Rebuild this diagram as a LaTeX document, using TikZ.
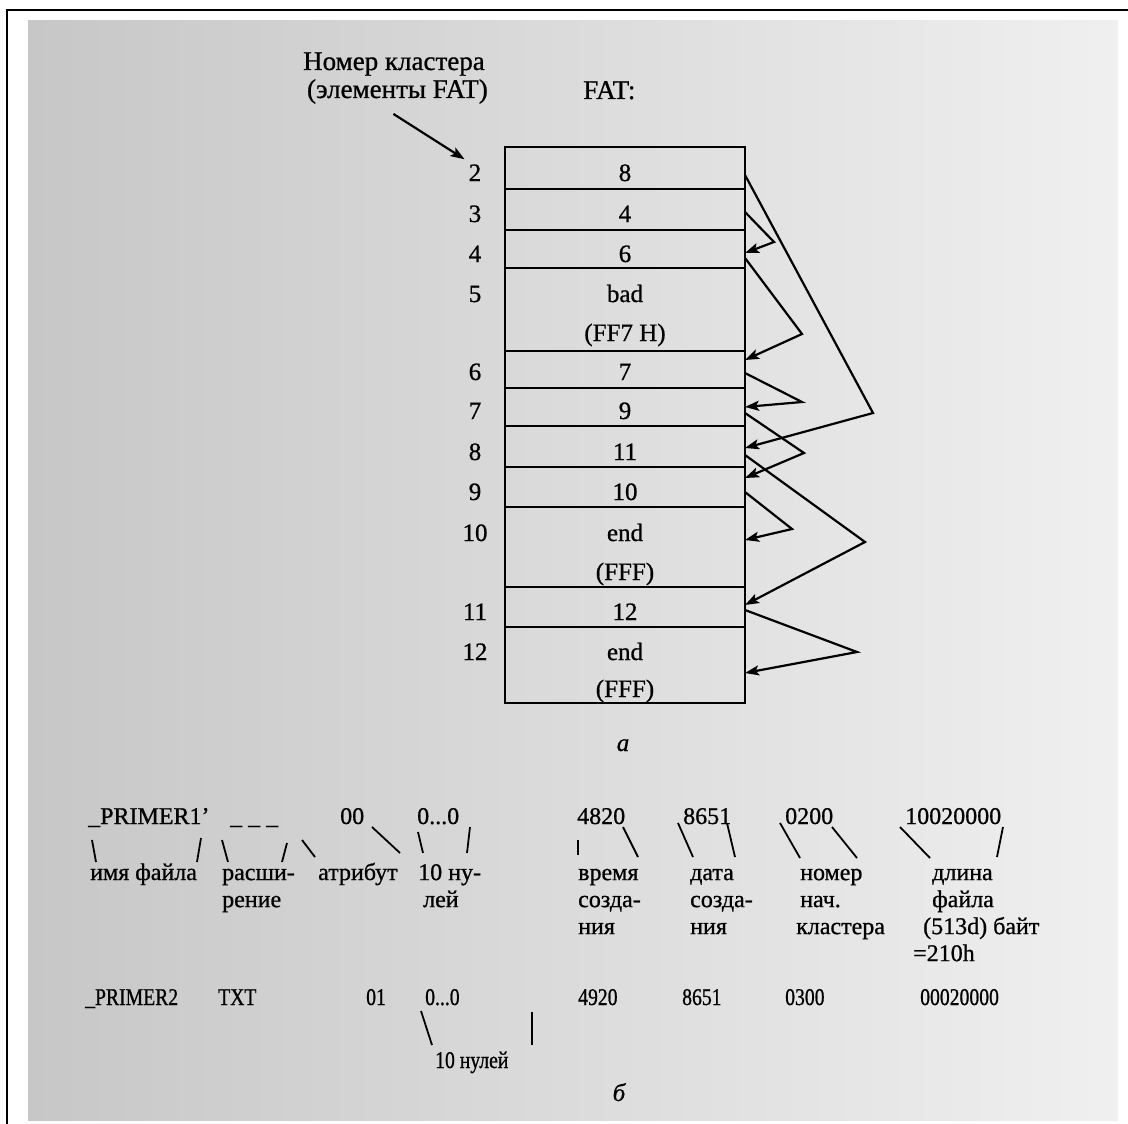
\documentclass[tikz,border=0pt]{standalone}
\usepackage{fontspec}
\setmainfont[FakeBold=0.8]{Liberation Serif}
\newfontfamily\condfont[FakeStretch=0.82,FakeBold=0.8]{Liberation Serif}
\usetikzlibrary{arrows.meta}
\begin{document}
\begin{tikzpicture}[x=1pt,y=-1pt,
  cell/.style={draw, line width=1.8pt, minimum width=240pt, inner sep=0pt, outer sep=0pt, anchor=north west},
  tx/.style={font=\fontsize{25}{30}\selectfont, inner sep=0pt, anchor=base},
  hd/.style={font=\fontsize{27}{30}\selectfont, inner sep=0pt},
  bt/.style={font=\fontsize{24}{27}\selectfont, inner sep=0pt, anchor=base west},
  ml/.style={font=\fontsize{24}{27}\selectfont, inner sep=0pt, anchor=north west, align=left},
  ct/.style={font=\condfont\fontsize{24}{27}\selectfont, inner sep=0pt, anchor=base west},
  arr/.style={line width=2.2pt, -{Stealth[length=14pt,width=10pt,inset=3pt]}},
  tick/.style={line width=1.8pt}]
\useasboundingbox (0,0) rectangle (1128,1124);
\fill[white] (0,0) rectangle (1128,1124);
\shade[left color=black!22, right color=black!6] (28,21) rectangle (1118,1120);
\draw[line width=2.5pt] (7,1124) -- (7,10) -- (1128,10);

% header
\node[hd, anchor=base east] (lbl1) at (485,70) {Номер кластера};
\node[hd, anchor=base east] (lbl2) at (488,98) {(элементы FAT)};
\node[hd, anchor=base west] (fat) at (583,99) {FAT:};

% table
\node[cell, minimum height=42pt] (r2) at (505,147) {};
\node[cell, minimum height=41pt] (r3) at (505,189) {};
\node[cell, minimum height=38pt] (r4) at (505,230) {};
\node[cell, minimum height=83pt] (r5) at (505,268) {};
\node[cell, minimum height=37pt] (r6) at (505,351) {};
\node[cell, minimum height=38pt] (r7) at (505,388) {};
\node[cell, minimum height=41pt] (r8) at (505,426) {};
\node[cell, minimum height=40pt] (r9) at (505,467) {};
\node[cell, minimum height=80pt] (r10) at (505,507) {};
\node[cell, minimum height=40pt] (r11) at (505,587) {};
\node[cell, minimum height=76pt] (r12) at (505,627) {};

\node[tx] (n2) at (475,181) {2};   \node[tx] (v2) at (625,181) {8};
\node[tx] (n3) at (475,222) {3};   \node[tx] (v3) at (625,222) {4};
\node[tx] (n4) at (475,262) {4};   \node[tx] (v4) at (625,262) {6};
\node[tx] (n5) at (475,302) {5};   \node[tx] (v5a) at (625,302) {bad};
\node[tx] (v5b) at (625,341) {(FF7 H)};
\node[tx] (n6) at (475,380) {6};   \node[tx] (v6) at (625,380) {7};
\node[tx] (n7) at (475,419) {7};   \node[tx] (v7) at (625,419) {9};
\node[tx] (n8) at (475,460) {8};   \node[tx] (v8) at (625,460) {11};
\node[tx] (n9) at (475,500) {9};   \node[tx] (v9) at (625,500) {10};
\node[tx] (n10) at (475,541) {10}; \node[tx] (v10a) at (625,541) {end};
\node[tx] (v10b) at (625,580) {(FFF)};
\node[tx] (n11) at (475,620) {11}; \node[tx] (v11) at (625,620) {12};
\node[tx] (n12) at (475,660) {12}; \node[tx] (v12a) at (625,660) {end};
\node[tx] (v12b) at (625,697) {(FFF)};
\node[tx, font=\itshape\fontsize{25}{30}\selectfont] (capa) at (623,751) {а};

% header arrow
\draw[arr] ([xshift=-4pt,yshift=-10pt]lbl2.south) -- ([xshift=-4pt,yshift=5pt]n2.north west);

% chain arrows
\coordinate (aA) at (873,413);
\coordinate (aB) at (774,242);
\coordinate (aC) at (802,334);
\coordinate (aD) at (802,402);
\coordinate (aE) at (804,453);
\coordinate (aF) at (865,542);
\coordinate (aG) at (792,529);
\coordinate (aH) at (857,652);
\draw[arr] (r2.east |- 0,175) -- (aA) -- (r8.east |- 0,448);
\draw[arr] (r3.east |- 0,212) -- (aB) -- (r4.east |- 0,253);
\draw[arr] (r4.east |- 0,258) -- (aC) -- (r6.east |- 0,360);
\draw[arr] (r6.east |- 0,373) -- (aD) -- (r7.east |- 0,407);
\draw[arr] (r7.east |- 0,413) -- (aE) -- (r9.east |- 0,478);
\draw[arr] (r8.east |- 0,455) -- (aF) -- (r11.east |- 0,605);
\draw[arr] (r9.east |- 0,492) -- (aG) -- (r10.east |- 0,540);
\draw[arr] (r11.east |- 0,610) -- (aH) -- (r12.east |- 0,673);

% record 1
\node[bt] (p1) at (88,824) {\_PRIMER1’};
\node[bt] (p2) at (230,824) {\_ \_ \_};
\node[bt] (p3) at (340,824) {00};
\node[bt] (p4) at (417,824) {0...0};
\node[bt] (p5) at (577,824) {4820};
\node[bt] (p6) at (683,824) {8651};
\node[bt] (p7) at (785,824) {0200};
\node[bt] (p8) at (905,824) {10020000};

\node[bt] (l1) at (90,880) {имя файла};
\node[ml] (l2) at (222,861) {\strut расши-\\\strut рение};
\node[bt] (l3) at (318,880) {атрибут};
\node[ml] (l4) at (418,861) {\strut 10 ну-\\\strut \hspace*{5pt}лей};
\node[ml] (l5) at (578,861) {\strut время\\\strut созда-\\\strut ния};
\node[ml] (l6) at (690,861) {\strut дата\\\strut созда-\\\strut ния};
\node[ml] (l7) at (796,861) {\strut \hspace*{4pt}номер\\\strut \hspace*{4pt}нач.\\\strut кластера};
\node[ml] (l8) at (913,861) {\strut \hspace*{19pt}длина\\\strut \hspace*{19pt}файла\\\strut \hspace*{10pt}(513d) байт\\\strut =210h};

\draw[tick] (92,840) -- (96,862);
\draw[tick] (201,838) -- (197,862);
\draw[tick] (222,840) -- (228,862);
\draw[tick] (287,843) -- (282,862);
\draw[tick] (302,840) -- (315,857);
\draw[tick] (372,827) -- (400,853);
\draw[tick] (418,832) -- (423,853);
\draw[tick] (470,827) -- (467,853);
\draw[tick] (578,840) -- (578,855);
\draw[tick] (623,827) -- (638,857);
\draw[tick] (678,823) -- (693,857);
\draw[tick] (727,823) -- (735,857);
\draw[tick] (780,823) -- (800,858);
\draw[tick] (832,827) -- (857,858);
\draw[tick] (900,827) -- (930,858);
\draw[tick] (1003,827) -- (997,857);

% record 2
\node[ct] (q1) at (85,1005) {\_PRIMER2};
\node[ct] (q2) at (218,1005) {TXT};
\node[ct] (q3) at (366,1005) {01};
\node[ct] (q4) at (425,1005) {0...0};
\node[ct] (q5) at (578,1005) {4920};
\node[ct] (q6) at (682,1005) {8651};
\node[ct] (q7) at (785,1005) {0300};
\node[ct] (q8) at (920,1005) {00020000};
\draw[tick] (421,1011) -- (432,1045);
\draw[tick] (532,1012) -- (532,1045);
\node[ct] (z1) at (435,1068) {10 нулей};
\node[tx, font=\itshape\fontsize{25}{30}\selectfont] (capb) at (619,1101) {б};
\end{tikzpicture}
\end{document}
